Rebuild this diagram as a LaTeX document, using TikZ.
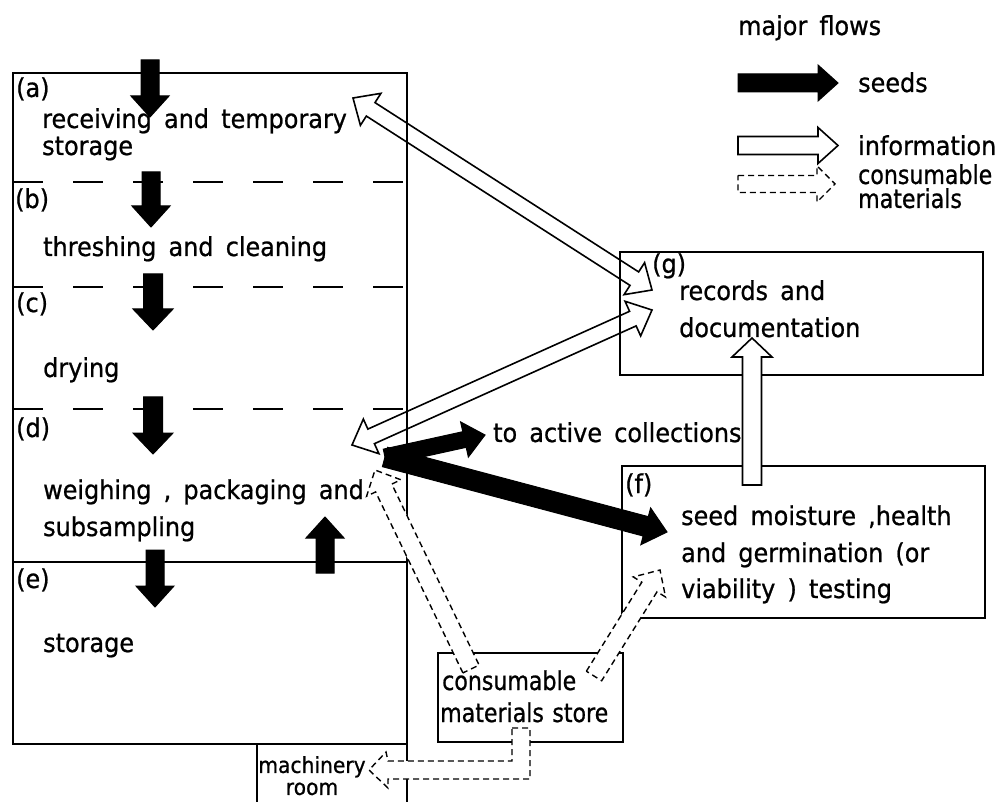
\documentclass[tikz,border=0pt]{standalone}
\usepackage{fontspec}
\setmainfont{DejaVu Sans}[FakeStretch=0.92,WordSpace=1.6,FakeBold=0.8]
\newfontfamily\storefont{DejaVu Sans}[FakeStretch=0.85,WordSpace=1.2,FakeBold=0.8]
\newfontfamily\machfont{DejaVu Sans}[FakeStretch=0.92,FakeBold=0.8]
\usetikzlibrary{calc}

% single-headed block arrow: style, tail, tip, half shaft, half head, head length
\newcommand\blockarrow[6]{%
  \coordinate (bah) at ($(#3)!#6!(#2)$);
  \path[#1] ($(#2)!#4!90:(#3)$) -- ($(bah)!#4!90:(#3)$) -- ($(bah)!#5!90:(#3)$)
    -- (#3) -- ($(bah)!#5!-90:(#3)$) -- ($(bah)!#4!-90:(#3)$) -- ($(#2)!#4!-90:(#3)$) -- cycle;}
% double-headed block arrow
\newcommand\dblarrow[6]{%
  \coordinate (dah) at ($(#2)!#6!(#3)$);
  \coordinate (dbh) at ($(#3)!#6!(#2)$);
  \path[#1] (#2) -- ($(dah)!#5!90:(#3)$) -- ($(dah)!#4!90:(#3)$) -- ($(dbh)!#4!90:(#3)$)
    -- ($(dbh)!#5!90:(#3)$) -- (#3) -- ($(dbh)!#5!-90:(#3)$) -- ($(dbh)!#4!-90:(#3)$)
    -- ($(dah)!#4!-90:(#3)$) -- ($(dah)!#5!-90:(#3)$) -- cycle;}

\tikzset{
  wall/.style={line width=2pt},
  room/.style={draw, line width=2pt, inner sep=0pt, outer sep=0pt, anchor=north west},
  divider/.style={line width=2pt, dash pattern=on 30pt off 30pt},
  txt/.style={inner sep=0pt, anchor=base west, font=\fontsize{26pt}{27pt}\selectfont},
  stxt/.style={txt, font=\fontsize{26pt}{27pt}\storefont},
  seedflow/.style={fill=black, draw=black, line width=1pt, line join=miter},
  infoflow/.style={draw=black, line width=1.6pt, line join=miter},
  infofill/.style={infoflow, fill=white},
  consflow/.style={draw=black, fill=white, line width=1.4pt, dash pattern=on 6pt off 4pt}
}

\begin{document}
\begin{tikzpicture}[x=1pt,y=-1pt]
\useasboundingbox (0,0) rectangle (1002,802);

% building and rooms
\node[room, minimum width=394pt, minimum height=671pt] (bldg) at (13,73) {};
\draw[wall] (13,562) -- (407,562);
\draw[divider] (13,182) -- (407,182);
\draw[divider] (13,287) -- (407,287);
\draw[divider] (13,409) -- (407,409);
\draw[wall] (257,744) -- (257,802);
\draw[wall] (407,744) -- (407,802);
\node[room, minimum width=363pt, minimum height=123pt] (gbox) at (620,252) {};
\node[room, minimum width=363pt, minimum height=152pt] (fbox) at (622,466) {};
\node[room, minimum width=185pt, minimum height=89pt] (store) at (438,653) {};

% texts
\node[txt] (la) at (16,97) {(a)};
\node[txt] (ta1) at (42,128) {receiving and temporary};
\node[txt] (ta2) at (42,155) {storage};
\node[txt] (lb) at (15,208) {(b)};
\node[txt] (tb) at (43,256) {threshing and cleaning};
\node[txt] (lc) at (16,312) {(c)};
\node[txt] (tc) at (43,377) {drying};
\node[txt] (ld) at (16,437) {(d)};
\node[txt] (td1) at (43,499) {weighing , packaging and};
\node[txt] (td2) at (43,536) {subsampling};
\node[txt] (le) at (16,588) {(e)};
\node[txt] (te) at (43,652) {storage};
\node[txt] (lg) at (652,273) {(g)};
\node[txt] (tg1) at (679,300) {records and};
\node[txt] (tg2) at (679,337) {documentation};
\node[txt] (lf) at (625,493) {(f)};
\node[txt] (tf1) at (681,525) {seed moisture ,health};
\node[txt] (tf2) at (681,562) {and germination (or};
\node[txt] (tf3) at (681,598) {viability ) testing};
\node[txt] (tact) at (493,442) {to active collections};
\node[stxt] (ts1) at (442,690) {consumable};
\node[stxt] (ts2) at (440,722) {materials store};
\node[inner sep=0pt, anchor=north, align=center,
      font=\fontsize{22pt}{22pt}\machfont] (tmach) at (312,756) {machinery\\room};
\node[txt] (tmaj) at (738,35) {major flows};
\node[txt] (tseeds) at (858,92) {seeds};
\node[txt] (tinfo) at (858,155) {information};
\node[inner sep=0pt, anchor=north west, align=left,
      font=\fontsize{26pt}{24pt}\storefont] (tcons) at (858,164) {consumable\\materials};

% coordinates of flow ends
\coordinate (sa0) at (150,60);  \coordinate (sa1) at (150,117);
\coordinate (sb0) at (151,172); \coordinate (sb1) at (151,227);
\coordinate (sc0) at (153,274); \coordinate (sc1) at (153,330);
\coordinate (sd0) at (153,397); \coordinate (sd1) at (153,454);
\coordinate (se0) at (155,550); \coordinate (se1) at (155,607);
\coordinate (su0) at (325,573); \coordinate (su1) at (325,517);
\coordinate (sout) at (385,457);
\coordinate (sact) at (485,435);
\coordinate (sf) at (667,532);
\coordinate (ia) at (353,98);   \coordinate (ig1) at (652,290);
\coordinate (id) at (352,445);  \coordinate (ig2) at (652,310);
\coordinate (if0) at (752,485); \coordinate (if1) at (752,338);
\coordinate (c1a) at (471,669); \coordinate (c1b) at (375,470);
\coordinate (c2a) at (594,676); \coordinate (c2b) at (660,570);
\coordinate (ls0) at (738,83);    \coordinate (ls1) at (838,83);
\coordinate (li0) at (738,145.5); \coordinate (li1) at (838,145.5);
\coordinate (lc0) at (738,184);   \coordinate (lc1) at (835,184);

% information flows
\dblarrow{infoflow}{ia}{ig1}{8pt}{19pt}{21pt}
\dblarrow{infoflow}{id}{ig2}{8pt}{19pt}{21pt}
\blockarrow{infofill}{if0}{if1}{9.5pt}{20pt}{19pt}

% seed flows
\blockarrow{seedflow}{sa0}{sa1}{9pt}{19pt}{21pt}
\blockarrow{seedflow}{sb0}{sb1}{9pt}{19pt}{21pt}
\blockarrow{seedflow}{sc0}{sc1}{9.5pt}{20pt}{21pt}
\blockarrow{seedflow}{sd0}{sd1}{9.5pt}{20pt}{21pt}
\blockarrow{seedflow}{se0}{se1}{9pt}{19pt}{21pt}
\blockarrow{seedflow}{su0}{su1}{9pt}{19pt}{21pt}
\blockarrow{seedflow}{sout}{sf}{10pt}{19pt}{22pt}
\blockarrow{seedflow}{sout}{sact}{8pt}{18pt}{21pt}

% consumable flows
\blockarrow{consflow}{c1a}{c1b}{9pt}{19pt}{20pt}
\blockarrow{consflow}{c2a}{c2b}{9pt}{19pt}{20pt}
\path[consflow] (512,728) -- (530,728) -- (530,779) -- (388,779) -- (388,788)
  -- (369,770) -- (386,752) -- (388,761) -- (512,761) -- cycle;

% legend
\blockarrow{seedflow}{ls0}{ls1}{9pt}{18pt}{20pt}
\blockarrow{infofill}{li0}{li1}{9pt}{18pt}{20pt}
\blockarrow{consflow}{lc0}{lc1}{8.5pt}{18pt}{18pt}
\end{tikzpicture}
\end{document}
